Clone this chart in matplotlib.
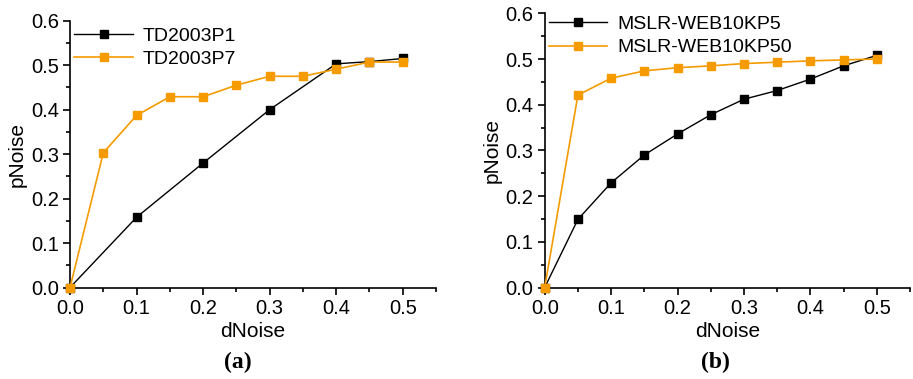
import numpy as np
import matplotlib
matplotlib.use('Agg')
import matplotlib.pyplot as plt
from matplotlib.ticker import MultipleLocator, FormatStrFormatter

plt.rcParams['font.family'] = ['Liberation Sans', 'DejaVu Sans']

# Data
x_a1 = [0.0, 0.1, 0.2, 0.3, 0.4, 0.45, 0.5]
td2003p1 = [0.0, 0.158, 0.28, 0.40, 0.503, 0.508, 0.515]
x_a7 = [0.0, 0.05, 0.1, 0.15, 0.2, 0.25, 0.3, 0.35, 0.4, 0.45, 0.5]
td2003p7 = [0.0, 0.303, 0.387, 0.429, 0.429, 0.455, 0.475, 0.475, 0.491, 0.507, 0.507]

x_b = [0.0, 0.05, 0.1, 0.15, 0.2, 0.25, 0.3, 0.35, 0.4, 0.45, 0.5]
mslr_p5 = [0.0, 0.149, 0.229, 0.29, 0.336, 0.378, 0.412, 0.431, 0.456, 0.485, 0.508]
mslr_p50 = [0.0, 0.421, 0.458, 0.474, 0.481, 0.485, 0.490, 0.493, 0.496, 0.498, 0.500]

black = '#000000'
orange = '#F59B00'

fig = plt.figure(figsize=(9.13, 3.79), dpi=100)
ax_a = fig.add_axes([0.0767, 0.2414, 0.4009, 0.704])
ax_b = fig.add_axes([0.5966, 0.2414, 0.4001, 0.7235])


def style_axes(ax):
    for side in ['top', 'right']:
        ax.spines[side].set_visible(False)
    for side in ['left', 'bottom']:
        ax.spines[side].set_linewidth(1.2)
    ax.set_xlim(0, 0.55)
    ax.set_ylim(0, 0.6)
    ax.xaxis.set_major_locator(MultipleLocator(0.1))
    ax.xaxis.set_minor_locator(MultipleLocator(0.05))
    ax.yaxis.set_major_locator(MultipleLocator(0.1))
    ax.yaxis.set_minor_locator(MultipleLocator(0.05))
    ax.xaxis.set_major_formatter(FormatStrFormatter('%.1f'))
    ax.yaxis.set_major_formatter(FormatStrFormatter('%.1f'))
    ax.tick_params(which='major', direction='out', length=5, width=1.2, labelsize=14.5, pad=3)
    ax.tick_params(which='minor', direction='out', length=3, width=1.2)
    ax.set_xlabel('dNoise', fontsize=15, labelpad=3)
    ax.set_ylabel('pNoise', fontsize=15, labelpad=3)


ax_a.plot(x_a1, td2003p1, color=black, marker='s', markersize=5.5, linewidth=1,
          label='TD2003P1', clip_on=False, zorder=3)
ax_a.plot(x_a7, td2003p7, color=orange, marker='s', markersize=5.5, linewidth=1.2,
          label='TD2003P7', clip_on=False, zorder=3)
style_axes(ax_a)
ax_a.legend(loc='upper left', bbox_to_anchor=(-0.02, 1.02), frameon=False, fontsize=14,
            handlelength=3.0, handletextpad=0.5, labelspacing=0.3, borderaxespad=0.2)

ax_b.plot(x_b, mslr_p5, color=black, marker='s', markersize=5.5, linewidth=1,
          label='MSLR-WEB10KP5', clip_on=False, zorder=3)
ax_b.plot(x_b, mslr_p50, color=orange, marker='s', markersize=5.5, linewidth=1.2,
          label='MSLR-WEB10KP50', clip_on=False, zorder=3)
style_axes(ax_b)
ax_b.legend(loc='upper left', bbox_to_anchor=(-0.02, 1.035), frameon=False, fontsize=14,
            handlelength=3.0, handletextpad=0.5, labelspacing=0.3, borderaxespad=0.2)

fig.text(238 / 913, 1 - 362 / 379, '(a)', fontsize=17, fontweight='bold',
         family='Liberation Serif', ha='center', va='center')
fig.text(715 / 913, 1 - 362 / 379, '(b)', fontsize=17, fontweight='bold',
         family='Liberation Serif', ha='center', va='center')

fig.savefig('out.png', dpi=100)
